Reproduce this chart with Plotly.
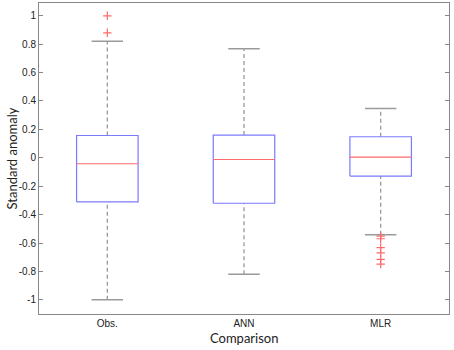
import plotly.graph_objects as go

categories = ["Obs.", "ANN", "MLR"]
q1 = [-0.31, -0.32, -0.129]
median = [-0.042, -0.012, 0.005]
q3 = [0.157, 0.16, 0.148]
lower_whisker = [-1.0, -0.82, -0.542]
upper_whisker = [0.82, 0.768, 0.347]
outliers = [
    [1.0, 0.88],
    [],
    [-0.552, -0.57, -0.632, -0.669, -0.716, -0.749],
]
y_ticks = [-1, -0.8, -0.6, -0.4, -0.2, 0, 0.2, 0.4, 0.6, 0.8, 1]

box_w = 0.45
cap_w = 0.23
blue = "#7a7aff"
red = "#ff6a6a"
grey = "#9a9a9a"

fig = go.Figure()
for i, cat in enumerate(categories):
    x = i + 1
    for a, b in [(q3[i], upper_whisker[i]), (lower_whisker[i], q1[i])]:
        fig.add_trace(go.Scatter(x=[x, x], y=[a, b], mode="lines",
                                 line=dict(color=grey, width=1.3, dash="4px,3px"),
                                 hoverinfo="skip", showlegend=False))
    for v in [upper_whisker[i], lower_whisker[i]]:
        fig.add_trace(go.Scatter(x=[x - cap_w / 2, x + cap_w / 2], y=[v, v], mode="lines",
                                 line=dict(color=grey, width=1.5),
                                 hoverinfo="skip", showlegend=False))
    fig.add_trace(go.Scatter(
        x=[x - box_w / 2, x + box_w / 2, x + box_w / 2, x - box_w / 2, x - box_w / 2],
        y=[q1[i], q1[i], q3[i], q3[i], q1[i]], mode="lines",
        line=dict(color=blue, width=1.2), hoverinfo="skip", showlegend=False))
    fig.add_trace(go.Scatter(x=[x - box_w / 2, x + box_w / 2], y=[median[i], median[i]],
                             mode="lines", line=dict(color=red, width=1.2),
                             hoverinfo="skip", showlegend=False))
    if outliers[i]:
        fig.add_trace(go.Scatter(x=[x] * len(outliers[i]), y=outliers[i], mode="markers",
                                 marker=dict(symbol="cross-thin-open", size=6, color=red,
                                             line=dict(color=red, width=1.2)),
                                 hoverinfo="skip", showlegend=False))

fig.update_layout(
    width=454, height=350,
    margin=dict(l=39, r=5, t=3, b=36),
    paper_bgcolor="white", plot_bgcolor="white",
    hovermode=False,
    font=dict(family="Liberation Sans, Arial", size=10, color="#222"),
    annotations=[
        dict(text="Comparison", xref="paper", yref="paper", x=0.5, y=0, yshift=-14,
             xanchor="center", yanchor="top", showarrow=False,
             font=dict(family="Lato, Open Sans", size=13, color="#222")),
        dict(text="Standard anomaly", xref="paper", yref="paper", x=0, y=0.5, xshift=-28,
             xanchor="center", yanchor="middle", textangle=-90, showarrow=False,
             font=dict(family="Lato, Open Sans", size=13, color="#222")),
    ],
)
fig.update_xaxes(
    range=[0.5, 3.5], tickvals=[1, 2, 3], ticktext=categories, automargin=False,
    showgrid=False, zeroline=False, showline=True, linecolor="#888", linewidth=1,
    mirror=True, ticks="", ticklen=0,
)
fig.update_yaxes(
    range=[-1.1, 1.09], tickvals=y_ticks, ticktext=[("%g" % v) for v in y_ticks],
    automargin=False,
    showgrid=False, zeroline=False, showline=True, linecolor="#888", linewidth=1,
    mirror="ticks", ticks="inside", ticklen=4, tickcolor="#888",
)

fig.write_html("out.html", config={"displayModeBar": False, "staticPlot": True},
               post_script="document.body.style.margin='0';")
